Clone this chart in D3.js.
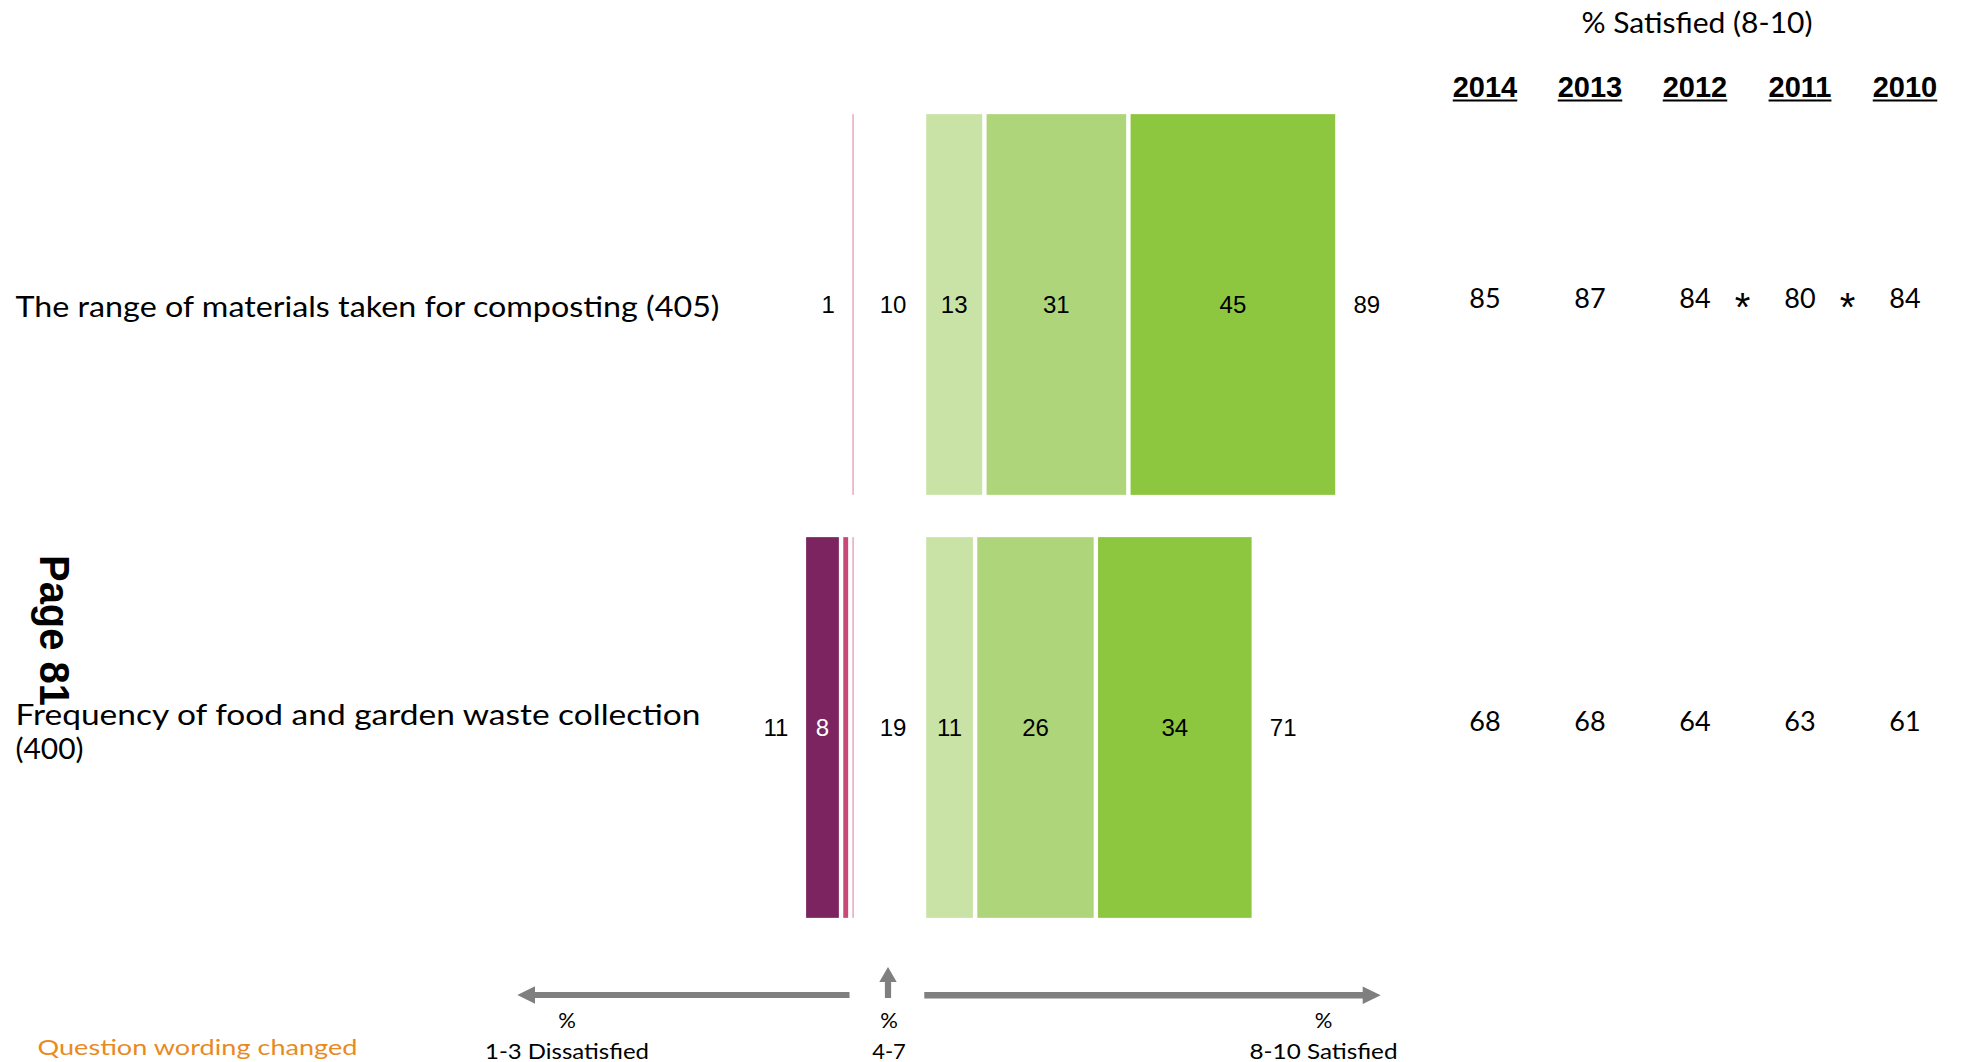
<!DOCTYPE html>
<html>
<head>
<meta charset="utf-8">
<script src="https://cdn.jsdelivr.net/npm/d3@7"></script>
<style>
  html, body { margin: 0; padding: 0; background: #ffffff; }
  svg { display: block; }
</style>
</head>
<body>
<svg id="chart" width="1962" height="1062"></svg>
<script>
// ---- data ----
const rowKeys = ["materials", "frequency"];
const rowLabelLines = [
  ["The range of materials taken for composting (405)"],
  ["Frequency of food and garden waste collection", "(400)"]
];
// dissatisfied shares for ratings 1, 2, 3 (rating 1 sits furthest out)
const dissatisfiedParts = [[0, 0, 1], [8, 2, 1]];
const dissatisfiedTotal = [1, 11];
// ratings 4-7
const neutralValues = [10, 19];
// satisfied shares for ratings 8, 9, 10
const satisfiedParts = [[13, 31, 45], [11, 26, 34]];
const satisfiedTotal = [89, 71];
// % satisfied (8-10) by survey year
const years = ["2014", "2013", "2012", "2011", "2010"];
const trendValues = [[85, 87, 84, 80, 84], [68, 68, 64, 63, 61]];
// significant change flagged between two adjacent years (index of the earlier column)
const trendFlags = [[2, 3], []];

// ---- styling ----
const disColors = ["#7b2460", "#c9487a", "#e07ba0"];
const satColors = ["#c9e3a6", "#aed57a", "#8dc63f"];
const gothic = "Lato, 'Open Sans', sans-serif";
const arial = "'Liberation Sans', Arial, sans-serif";

const svg = d3.select("#chart");

// ---- scales ----
const y = d3.scaleBand().domain(rowKeys).range([93, 939]).paddingInner(0.1).paddingOuter(0.05);
const xSat = d3.scaleLinear().domain([0, 100]).range([924, 924 + 464.5]);
const xDis = d3.scaleLinear().domain([0, 100]).range([855, 855 - 464.5]);
const neutralX = 893;
const xYear = d3.scalePoint().domain(years).range([1485, 1905]);
const gap = 4.4;
const bw = y.bandwidth();
const labelSize = 24;
const labelDy = 8.6;

// stack from the centre outwards: satisfied in order 8,9,10; dissatisfied in order 3,2,1
function stackOut(parts, innerFirst) {
  const order = innerFirst ? parts.map((_, i) => i) : parts.map((_, i) => parts.length - 1 - i);
  let acc = 0;
  const segs = [];
  order.forEach(i => { segs.push({ i, v: parts[i], start: acc, end: acc + parts[i] }); acc += parts[i]; });
  return segs;
}

rowKeys.forEach((key, r) => {
  const top = y(key);
  const cy = top + bw / 2;
  const g = svg.append("g");

  // dissatisfied side (grows to the left)
  const dSegs = stackOut(dissatisfiedParts[r], false).filter(s => s.v > 0);
  g.selectAll("rect.dis").data(dSegs).join("rect")
    .attr("class", "dis")
    .attr("x", s => xDis(s.end) + gap / 2)
    .attr("width", s => Math.max(1, xDis(s.start) - xDis(s.end) - gap))
    .attr("y", top).attr("height", bw)
    .attr("fill", s => disColors[s.i]);
  g.selectAll("text.dis").data(dSegs.filter(s => s.v >= 5)).join("text")
    .attr("class", "dis")
    .attr("x", s => (xDis(s.start) + xDis(s.end)) / 2)
    .attr("y", cy + labelDy)
    .attr("text-anchor", "middle")
    .attr("font-family", arial).attr("font-size", labelSize)
    .attr("fill", "#ffffff")
    .text(s => s.v);
  g.append("text")
    .attr("x", xDis(dissatisfiedTotal[r]) - 15.5)
    .attr("y", cy + labelDy)
    .attr("text-anchor", "end")
    .attr("font-family", arial).attr("font-size", labelSize).attr("fill", "#000")
    .text(dissatisfiedTotal[r]);

  // neutral value
  g.append("text")
    .attr("x", neutralX).attr("y", cy + labelDy)
    .attr("text-anchor", "middle")
    .attr("font-family", arial).attr("font-size", labelSize).attr("fill", "#000")
    .text(neutralValues[r]);

  // satisfied side (grows to the right)
  const sSegs = stackOut(satisfiedParts[r], true);
  g.selectAll("rect.sat").data(sSegs).join("rect")
    .attr("class", "sat")
    .attr("x", s => xSat(s.start) + gap / 2)
    .attr("width", s => Math.max(1, xSat(s.end) - xSat(s.start) - gap))
    .attr("y", top).attr("height", bw)
    .attr("fill", s => satColors[s.i]);
  g.selectAll("text.sat").data(sSegs.filter(s => s.v >= 5)).join("text")
    .attr("class", "sat")
    .attr("x", s => (xSat(s.start) + xSat(s.end)) / 2)
    .attr("y", cy + labelDy)
    .attr("text-anchor", "middle")
    .attr("font-family", arial).attr("font-size", labelSize).attr("fill", "#000")
    .text(s => s.v);
  g.append("text")
    .attr("x", xSat(satisfiedTotal[r]) + 16)
    .attr("y", cy + labelDy)
    .attr("text-anchor", "start")
    .attr("font-family", arial).attr("font-size", labelSize).attr("fill", "#000")
    .text(satisfiedTotal[r]);

  // row label
  const lines = rowLabelLines[r];
  const lineWidths = r === 0 ? [704] : [685, 68];
  const firstBase = lines.length === 1 ? cy + 12.2 : cy - 2.8;
  lines.forEach((ln, k) => {
    g.append("text")
      .attr("x", 15.5).attr("y", firstBase + k * 34)
      .attr("font-family", gothic).attr("font-size", 29).attr("fill", "#000")
      .attr("textLength", lineWidths[k]).attr("lengthAdjust", "spacingAndGlyphs")
      .text(ln);
  });

  // trend columns
  g.selectAll("text.trend").data(trendValues[r]).join("text")
    .attr("class", "trend")
    .attr("x", (v, i) => xYear(years[i]))
    .attr("y", cy + 3.8)
    .attr("text-anchor", "middle")
    .attr("font-family", gothic).attr("font-size", 27).attr("fill", "#000")
    .text(v => v);
  g.selectAll("text.flag").data(trendFlags[r]).join("text")
    .attr("class", "flag")
    .attr("x", i => (xYear(years[i]) + xYear(years[i + 1])) / 2 - 5)
    .attr("y", cy + 16.5)
    .attr("text-anchor", "middle")
    .attr("font-family", arial).attr("font-size", 40).attr("fill", "#000")
    .text("*");
});

// ---- trend header ----
svg.append("text")
  .attr("x", 1697).attr("y", 33.3)
  .attr("text-anchor", "middle")
  .attr("font-family", gothic).attr("font-size", 29).attr("fill", "#000")
  .attr("textLength", 231).attr("lengthAdjust", "spacingAndGlyphs")
  .text("% Satisfied (8-10)");

const yearHead = svg.append("g");
years.forEach(yr => {
  const t = yearHead.append("text")
    .attr("x", xYear(yr)).attr("y", 96.7)
    .attr("text-anchor", "middle")
    .attr("font-family", arial).attr("font-weight", "bold").attr("font-size", 29).attr("fill", "#000")
    .text(yr);
  const w = t.node().getComputedTextLength();
  yearHead.append("line")
    .attr("x1", xYear(yr) - w / 2).attr("x2", xYear(yr) + w / 2)
    .attr("y1", 100.5).attr("y2", 100.5)
    .attr("stroke", "#000").attr("stroke-width", 2);
});

// ---- page number ----
svg.append("text")
  .attr("transform", "translate(40,555) rotate(90)")
  .attr("font-family", arial).attr("font-weight", "bold").attr("font-size", 42).attr("fill", "#000")
  .attr("textLength", 151).attr("lengthAdjust", "spacingAndGlyphs")
  .text("Page 81");

// ---- direction arrows ----
const arrowColor = "#7f7f7f";
function hArrow(x0, x1, cyA, shaft, headLen, headHalf) {
  const dir = Math.sign(x1 - x0);
  const xb = x1 - dir * headLen;
  const p = d3.path();
  p.moveTo(x0, cyA - shaft / 2);
  p.lineTo(xb, cyA - shaft / 2);
  p.lineTo(xb, cyA - headHalf);
  p.lineTo(x1, cyA);
  p.lineTo(xb, cyA + headHalf);
  p.lineTo(xb, cyA + shaft / 2);
  p.lineTo(x0, cyA + shaft / 2);
  p.closePath();
  return p.toString();
}
function vArrow(cx, y0, y1, shaft, headLen, headHalf) {
  const yb = y1 + headLen;
  const p = d3.path();
  p.moveTo(cx - shaft / 2, y0);
  p.lineTo(cx - shaft / 2, yb);
  p.lineTo(cx - headHalf, yb);
  p.lineTo(cx, y1);
  p.lineTo(cx + headHalf, yb);
  p.lineTo(cx + shaft / 2, yb);
  p.lineTo(cx + shaft / 2, y0);
  p.closePath();
  return p.toString();
}
const arrows = svg.append("g").attr("fill", arrowColor);
arrows.append("path").attr("d", hArrow(849.5, 517.3, 995, 5.8, 17.7, 8.7));
arrows.append("path").attr("d", vArrow(888, 998, 967, 6.2, 15, 8.7));
arrows.append("path").attr("d", hArrow(924.3, 1380.7, 995.3, 6.4, 18, 8.7));

const scaleLabels = [
  { x: 567, lines: ["%", "1-3 Dissatisfied"], w: 164 },
  { x: 889, lines: ["%", "4-7"], w: null },
  { x: 1323.5, lines: ["%", "8-10 Satisfied"], w: 148 }
];
scaleLabels.forEach(d => {
  d.lines.forEach((ln, k) => {
    const t = svg.append("text")
      .attr("x", d.x).attr("y", k === 0 ? 1028 : 1058.5)
      .attr("text-anchor", "middle")
      .attr("font-family", gothic).attr("font-size", 22).attr("fill", "#000")
      .text(ln);
    if (k === 1 && d.w) t.attr("textLength", d.w).attr("lengthAdjust", "spacingAndGlyphs");
  });
});

// ---- footnote ----
svg.append("text")
  .attr("x", 37.5).attr("y", 1055)
  .attr("font-family", gothic).attr("font-size", 22).attr("fill", "#e98a1f")
  .attr("textLength", 320).attr("lengthAdjust", "spacingAndGlyphs")
  .text("Question wording changed");
</script>
</body>
</html>
